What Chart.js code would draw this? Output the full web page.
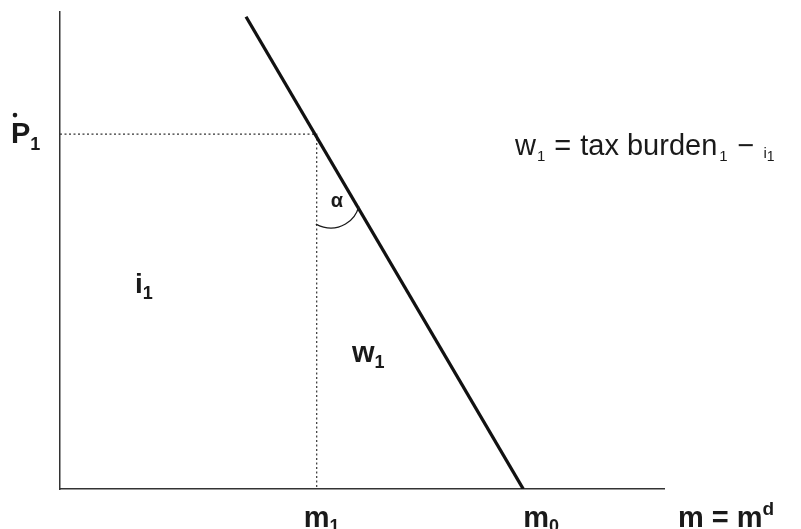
<!DOCTYPE html>
<html>
<head>
<meta charset="utf-8">
<script src="https://cdn.jsdelivr.net/npm/chart.js@4.4.1/dist/chart.umd.min.js"></script>
<style>
  html, body { margin: 0; padding: 0; background: #fff; }
  #wrap { width: 801px; height: 529px; position: relative; }
</style>
</head>
<body>
<div id="wrap"><canvas id="chart"></canvas></div>
<script>
// demand line m^d and the guide lines at the point (m1, P1)
const demandX = [30.8, 76.7];
const demandY = [99, 0];
const guideX = [0, 42.5, 42.5];
const guideY = [74.4, 74.4, 0];

const FONT = '"Liberation Sans", Arial, Helvetica, sans-serif';
const INK = '#1a1a1a';

function toPoints(xs, ys) {
    return xs.map((x, i) => ({ x: x, y: ys[i] }));
}

// draws a row of text pieces: [text, size, bold, dy, gapBefore]
function drawRow(ctx, x, y, parts) {
    parts.forEach(p => {
        x += p[4] || 0;
        ctx.font = (p[2] ? 'bold ' : '') + p[1] + 'px ' + FONT;
        ctx.fillText(p[0], x, y + (p[3] || 0));
        x += ctx.measureText(p[0]).width;
    });
}

const labelsPlugin = {
    id: 'labels',
    afterDatasetsDraw(chart) {
        const ctx = chart.ctx;
        const xs = chart.scales.x, ys = chart.scales.y;
        const mx1 = xs.getPixelForValue(guideX[1]);
        const py1 = ys.getPixelForValue(guideY[0]);
        const m0 = xs.getPixelForValue(demandX[1]);
        const bottom = chart.chartArea.bottom;

        ctx.save();
        ctx.fillStyle = INK;
        ctx.strokeStyle = INK;
        ctx.textBaseline = 'alphabetic';

        // angle arc between the vertical guide and the demand line
        ctx.lineWidth = 1.3;
        ctx.beginPath();
        ctx.arc(mx1 + 14, py1 + 65, 29, 0.25, 2.11);
        ctx.stroke();
        drawRow(ctx, mx1 + 14, py1 + 73, [['α', 20, true]]);

        // P dot 1
        drawRow(ctx, 11, py1 + 9, [['P', 29, true], ['1', 18, true, 7]]);
        ctx.beginPath();
        ctx.arc(15, py1 - 19, 2.3, 0, Math.PI * 2);
        ctx.fill();

        // equation
        drawRow(ctx, 515, 155, [
            ['w', 29], ['1', 15, false, 6, 1], ['=', 29, false, 0, 9], ['tax burden', 29, false, 0, 9],
            ['1', 15, false, 6, 2], ['\u2212', 29, false, 0, 10], ['i', 15, false, 3, 9], ['1', 14, false, 6]
        ]);

        // area labels
        drawRow(ctx, 135, 293, [['i', 28, true], ['1', 18, true, 6]]);
        drawRow(ctx, 352, 362, [['w', 29, true], ['1', 18, true, 6]]);

        // axis labels
        drawRow(ctx, mx1 - 13, bottom + 38, [['m', 29, true], ['1', 18, true, 5]]);
        drawRow(ctx, m0, bottom + 38, [['m', 29, true], ['0', 18, true, 5]]);
        drawRow(ctx, 678, bottom + 38, [['m = m', 29, true], ['d', 19, true, -12]]);
        ctx.restore();
    }
};

new Chart(document.getElementById('chart'), {
    type: 'scatter',
    data: {
        datasets: [
            {
                data: toPoints(demandX, demandY),
                showLine: true,
                borderColor: '#111',
                borderWidth: 3.3,
                pointRadius: 0
            },
            {
                data: toPoints(guideX, guideY),
                showLine: true,
                borderColor: '#333',
                borderWidth: 1.2,
                borderDash: [2, 2.5],
                pointRadius: 0
            }
        ]
    },
    options: {
        responsive: true,
        maintainAspectRatio: false,
        animation: false,
        layout: { padding: { left: 60, right: 137, top: 12, bottom: 40 } },
        plugins: { legend: { display: false }, tooltip: { enabled: false } },
        scales: {
            x: {
                type: 'linear', min: 0, max: 100,
                grid: { display: false, drawTicks: false },
                border: { display: true, color: '#333', width: 1.5 },
                ticks: { display: false }
            },
            y: {
                type: 'linear', min: 0, max: 100,
                grid: { display: false, drawTicks: false },
                border: { display: true, color: '#333', width: 1.5 },
                ticks: { display: false }
            }
        }
    },
    plugins: [labelsPlugin]
});
</script>
</body>
</html>
